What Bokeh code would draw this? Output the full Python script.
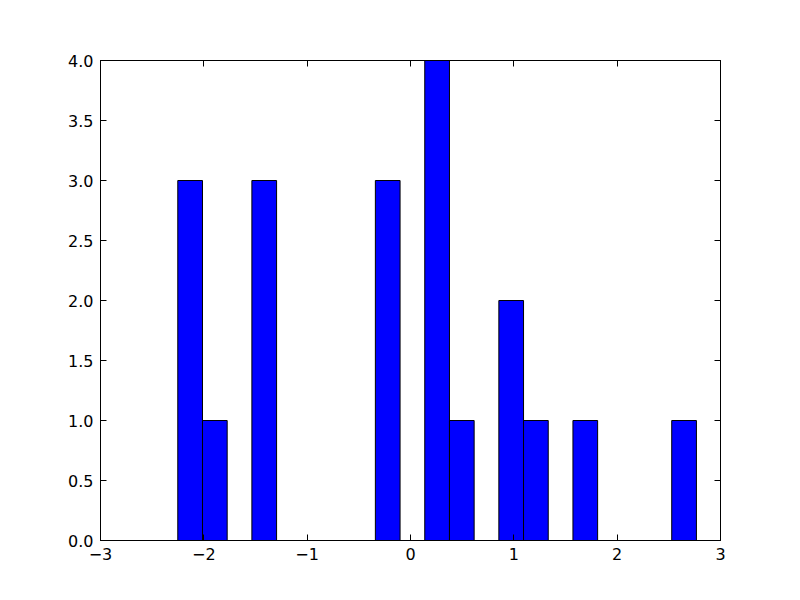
from bokeh.plotting import figure
from bokeh.models import Range1d, LinearAxis, FixedTicker, ColumnDataSource
from bokeh.embed import file_html
from bokeh.resources import INLINE

# Histogram: 21 bins
bin_lefts = [-2.252, -2.013, -1.774, -1.535, -1.296, -1.057, -0.818, -0.579,
             -0.340, -0.101, 0.138, 0.377, 0.616, 0.855, 1.094, 1.333,
             1.572, 1.811, 2.050, 2.289, 2.528]
bin_rights = [-2.013, -1.774, -1.535, -1.296, -1.057, -0.818, -0.579, -0.340,
              -0.101, 0.138, 0.377, 0.616, 0.855, 1.094, 1.333, 1.572,
              1.811, 2.050, 2.289, 2.528, 2.767]
counts = [3, 1, 0, 3, 0, 0, 0, 0, 3, 0, 4, 1, 0, 2, 1, 0, 1, 0, 0, 0, 1]

x_ticks = [-3, -2, -1, 0, 1, 2, 3]
x_tick_labels = ["\u22123", "\u22122", "\u22121", "0", "1", "2", "3"]
y_ticks = [0.0, 0.5, 1.0, 1.5, 2.0, 2.5, 3.0, 3.5, 4.0]
y_tick_labels = ["0.0", "0.5", "1.0", "1.5", "2.0", "2.5", "3.0", "3.5", "4.0"]

W, H = 800, 600
p = figure(width=W, height=H, output_backend="svg", toolbar_location=None,
           x_range=Range1d(-3, 3), y_range=Range1d(0, 4),
           min_border_left=100, min_border_right=80,
           min_border_top=60, min_border_bottom=60,
           x_axis_location=None, y_axis_location=None)
p.xgrid.visible = False
p.ygrid.visible = False
p.outline_line_color = "black"
p.outline_line_width = 1
p.background_fill_color = "white"
p.border_fill_color = "white"

src = ColumnDataSource(dict(left=bin_lefts, right=bin_rights, top=counts,
                            bottom=[0] * len(counts)))
p.quad(left="left", right="right", top="top", bottom="bottom", source=src,
       fill_color="#0000ff", line_color="black", line_width=1)

FONT = "DejaVu Sans"
FS = "16px"

def style(ax, labels):
    ax.major_tick_in = 6
    ax.major_tick_out = 0
    ax.minor_tick_in = 0
    ax.minor_tick_out = 0
    ax.axis_line_color = "black"
    ax.major_tick_line_color = "black"
    ax.major_label_text_font = FONT
    ax.major_label_text_font_size = FS
    ax.major_label_text_color = "black"
    if not labels:
        ax.major_label_text_font_size = "0px"
        ax.major_label_text_alpha = 0

xb = LinearAxis(ticker=FixedTicker(ticks=x_ticks),
                major_label_overrides={t: l for t, l in zip(x_ticks, x_tick_labels)})
style(xb, True)
xb.major_label_standoff = 7
p.add_layout(xb, "below")

yl = LinearAxis(ticker=FixedTicker(ticks=y_ticks),
                major_label_overrides={t: l for t, l in zip(y_ticks, y_tick_labels)})
style(yl, True)
yl.major_label_standoff = 7
p.add_layout(yl, "left")

xt = LinearAxis(ticker=FixedTicker(ticks=x_ticks))
style(xt, False)
p.add_layout(xt, "above")

yr = LinearAxis(ticker=FixedTicker(ticks=y_ticks))
style(yr, False)
p.add_layout(yr, "right")

open("out.html", "w").write(file_html(p, INLINE))
